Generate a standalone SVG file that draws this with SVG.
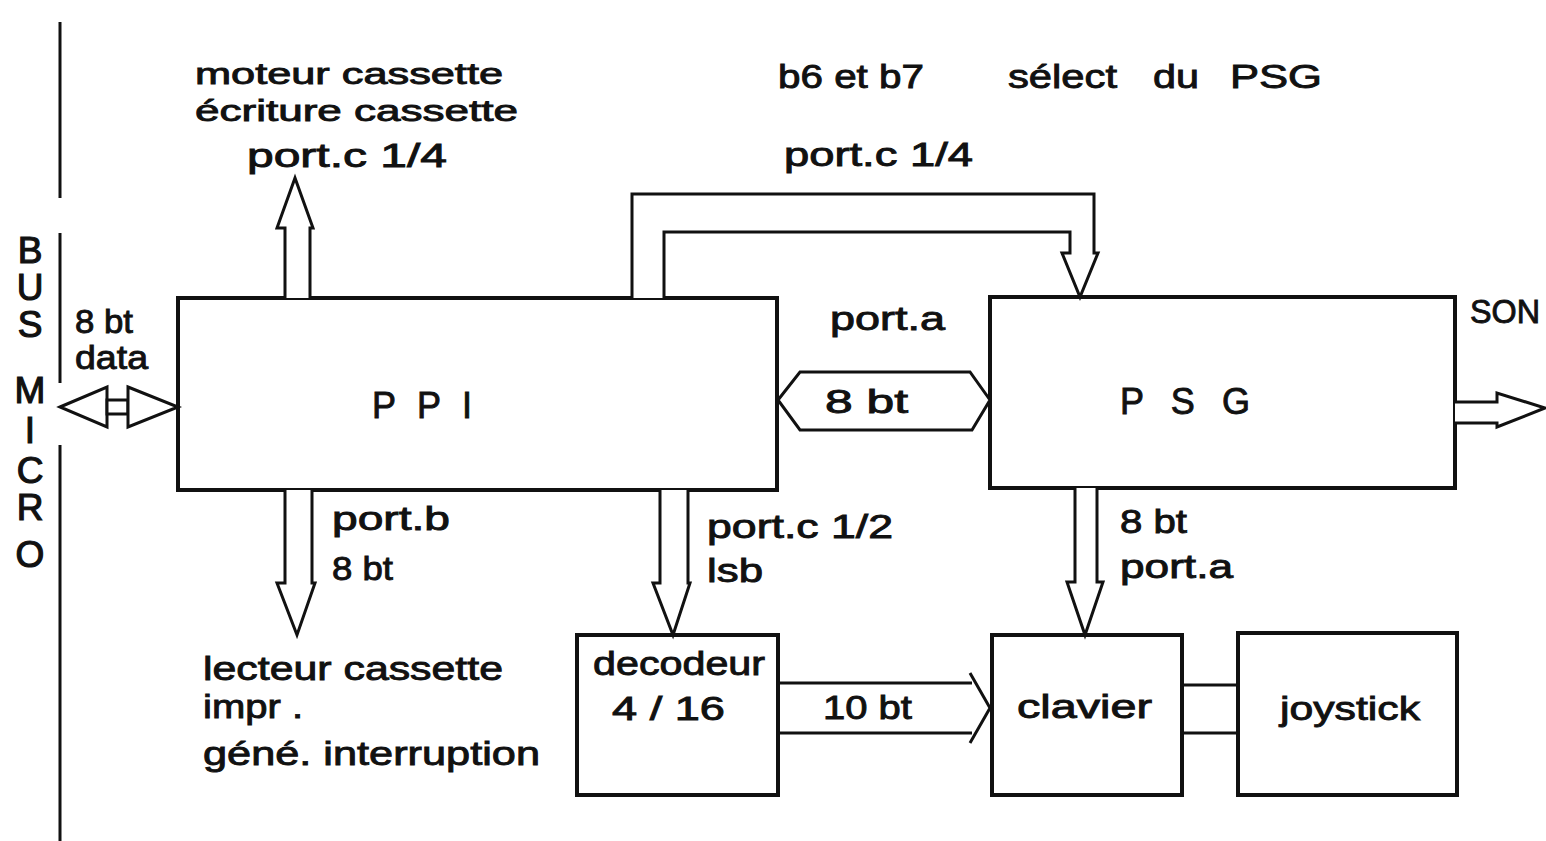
<svg xmlns="http://www.w3.org/2000/svg" width="1546" height="841" viewBox="0 0 1546 841">
<style>
.box{fill:none;stroke:#111;stroke-width:4}
.arr{fill:#fff;stroke:#111;stroke-width:3;stroke-linejoin:miter}
.ln{fill:none;stroke:#111;stroke-width:3}
.t{font-family:"Liberation Sans",Arial,sans-serif;font-size:33px;fill:#111;stroke:#111;stroke-width:0.9}
.s{font-size:30px}
.big{font-family:"Liberation Sans",Arial,sans-serif;font-size:36px;fill:#111;stroke:#111;stroke-width:0.9}
.bus{font-family:"Liberation Sans",Arial,sans-serif;font-size:37px;fill:#111;stroke:#111;stroke-width:1.2;text-anchor:middle}
</style>
<rect width="1546" height="841" fill="#fff"/>

<g id="bus">
  <line class="ln" x1="60" y1="22" x2="60" y2="198"/>
  <line class="ln" x1="60" y1="233" x2="60" y2="383"/>
  <line class="ln" x1="60" y1="445" x2="60" y2="841"/>
  <text class="bus" x="30" y="263">B</text>
  <text class="bus" x="30" y="300">U</text>
  <text class="bus" x="30" y="337">S</text>
  <text class="bus" x="30" y="403">M</text>
  <text class="bus" x="30" y="443">I</text>
  <text class="bus" x="30" y="483">C</text>
  <text class="bus" x="30" y="520">R</text>
  <text class="bus" x="30" y="567">O</text>
</g>

<g id="ppi">
  <rect class="box" x="178" y="298" width="599" height="192"/>
  <text class="big" x="372" y="418" textLength="100" lengthAdjust="spacing">P P I</text>
</g>

<g id="psg">
  <rect class="box" x="990" y="297" width="465" height="191"/>
  <text class="big" x="1120" y="414" textLength="130" lengthAdjust="spacing">P S G</text>
</g>

<g id="decodeur">
  <rect class="box" x="577" y="635" width="201" height="160"/>
  <text class="t" x="593" y="675" textLength="172" lengthAdjust="spacingAndGlyphs">decodeur</text>
  <text class="t" x="612" y="720" textLength="113" lengthAdjust="spacingAndGlyphs">4 / 16</text>
</g>

<g id="clavier">
  <rect class="box" x="992" y="635" width="190" height="160"/>
  <text class="t" x="1017" y="718" textLength="135" lengthAdjust="spacingAndGlyphs">clavier</text>
</g>

<g id="joystick">
  <rect class="box" x="1238" y="633" width="219" height="162"/>
  <text class="t" x="1280" y="720" textLength="140" lengthAdjust="spacingAndGlyphs">joystick</text>
</g>

<g id="connectors">
  <path class="arr" d="M60,407 L107,387 L107,427 Z"/>
  <path class="arr" d="M107,400 L128,400 L128,414 L107,414 Z"/>
  <path class="arr" d="M128,387 L178,407 L128,427 Z"/>
  <path class="arr" d="M285,298 L285,228 L277,228 L295,178 L313,228 L310,228 L310,298"/>
  <path class="arr" d="M285,490 L285,583 L277,583 L297,635 L315,583 L312,583 L312,490"/>
  <path class="arr" d="M660,490 L660,583 L653,583 L673,635 L690,583 L688,583 L688,490"/>
  <path class="arr" d="M632,298 L632,194 L1094,194 L1094,253 L1098,253 L1080,297 L1062,253 L1070,253 L1070,232 L664,232 L664,298"/>
  <path class="arr" d="M778,400 L800,372 L970,372 L990,400 L972,430 L800,430 Z"/>
  <path class="arr" d="M1455,402 L1497,402 L1497,393 L1545,408 L1497,427 L1497,423 L1455,423"/>
  <path class="arr" d="M1075,488 L1075,582 L1067,582 L1085,635 L1103,582 L1097,582 L1097,488"/>
  <line class="ln" x1="778" y1="683" x2="972" y2="683"/>
  <line class="ln" x1="778" y1="733" x2="972" y2="733"/>
  <path class="ln" d="M970,673 L990,708 L970,743"/>
  <line class="ln" x1="1182" y1="685" x2="1238" y2="685"/>
  <line class="ln" x1="1182" y1="733" x2="1238" y2="733"/>
</g>

<g id="labels">
  <text class="t" x="75" y="333" textLength="58" lengthAdjust="spacingAndGlyphs">8 bt</text>
  <text class="t" x="75" y="369" textLength="73" lengthAdjust="spacingAndGlyphs">data</text>
  <text class="t s" x="195" y="84" textLength="308" lengthAdjust="spacingAndGlyphs">moteur cassette</text>
  <text class="t s" x="195" y="121" textLength="323" lengthAdjust="spacingAndGlyphs">écriture cassette</text>
  <text class="t" x="247" y="167" textLength="200" lengthAdjust="spacingAndGlyphs">port.c 1/4</text>
  <text class="t" x="778" y="88" textLength="146" lengthAdjust="spacingAndGlyphs">b6 et b7</text>
  <text class="t" x="1008" y="88" textLength="109" lengthAdjust="spacingAndGlyphs">sélect</text>
  <text class="t" x="1153" y="88" textLength="46" lengthAdjust="spacingAndGlyphs">du</text>
  <text class="t" x="1230" y="88" textLength="92" lengthAdjust="spacingAndGlyphs">PSG</text>
  <text class="t" x="784" y="166" textLength="189" lengthAdjust="spacingAndGlyphs">port.c 1/4</text>
  <text class="t" x="830" y="330" textLength="115" lengthAdjust="spacingAndGlyphs">port.a</text>
  <text class="t" x="825" y="413" textLength="83" lengthAdjust="spacingAndGlyphs">8 bt</text>
  <text class="t" x="1470" y="323" textLength="70" lengthAdjust="spacingAndGlyphs">SON</text>
  <text class="t" x="332" y="530" textLength="118" lengthAdjust="spacingAndGlyphs">port.b</text>
  <text class="t" x="332" y="580" textLength="61" lengthAdjust="spacingAndGlyphs">8 bt</text>
  <text class="t" x="203" y="680" textLength="300" lengthAdjust="spacingAndGlyphs">lecteur cassette</text>
  <text class="t" x="203" y="718" textLength="100" lengthAdjust="spacingAndGlyphs">impr .</text>
  <text class="t" x="203" y="765" textLength="337" lengthAdjust="spacingAndGlyphs">géné. interruption</text>
  <text class="t" x="707" y="538" textLength="186" lengthAdjust="spacingAndGlyphs">port.c 1/2</text>
  <text class="t" x="707" y="582" textLength="56" lengthAdjust="spacingAndGlyphs">lsb</text>
  <text class="t" x="823" y="719" textLength="89" lengthAdjust="spacingAndGlyphs">10 bt</text>
  <text class="t" x="1120" y="533" textLength="67" lengthAdjust="spacingAndGlyphs">8 bt</text>
  <text class="t" x="1120" y="578" textLength="113" lengthAdjust="spacingAndGlyphs">port.a</text>
</g>
</svg>
